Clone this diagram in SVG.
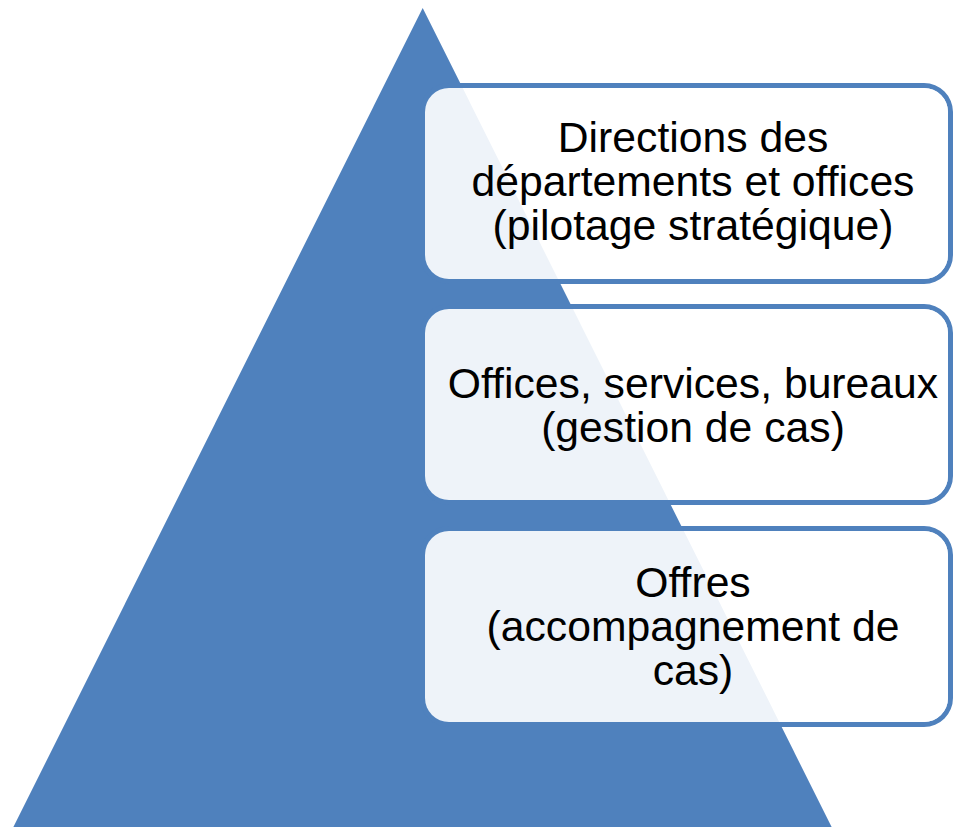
<svg xmlns="http://www.w3.org/2000/svg" width="953" height="827" viewBox="0 0 953 827">
  <style>
    .tri { fill: #4f81bd; }
    .frame { fill: #4f81bd; fill-rule: evenodd; }
    .box { fill: #ffffff; fill-opacity: 0.9; }
    .lbl { font-family: "Liberation Sans", Arial, sans-serif; font-size: 42.7px; fill: #000000; text-anchor: middle; }
  </style>
  <rect width="953" height="827" fill="#ffffff"/>
  <g id="pyramid">
    <polygon class="tri" points="422.7,8 13.4,827 831.6,827"/>
  </g>
  <g id="connectors"></g>
  <g id="node1">
    <path class="frame" d="M449,83 H924 A29,29 0 0 1 953,112 V255 A29,29 0 0 1 924,284 H449 A29,29 0 0 1 420,255 V112 A29,29 0 0 1 449,83 Z M449,88 A24,24 0 0 0 425,112 V255 A24,24 0 0 0 449,279 H924 A24,24 0 0 0 948,255 V112 A24,24 0 0 0 924,88 Z"/>
    <rect class="box" x="425" y="88" width="523" height="191" rx="24" ry="24"/>
    <text class="lbl" x="693" y="152">Directions des</text>
    <text class="lbl" x="693" y="196">départements et offices</text>
    <text class="lbl" x="693" y="240">(pilotage stratégique)</text>
  </g>
  <g id="node2">
    <path class="frame" d="M449,304 H924 A29,29 0 0 1 953,333 V476 A29,29 0 0 1 924,505 H449 A29,29 0 0 1 420,476 V333 A29,29 0 0 1 449,304 Z M449,309 A24,24 0 0 0 425,333 V476 A24,24 0 0 0 449,500 H924 A24,24 0 0 0 948,476 V333 A24,24 0 0 0 924,309 Z"/>
    <rect class="box" x="425" y="309" width="523" height="191" rx="24" ry="24"/>
    <text class="lbl" x="693" y="398">Offices, services, bureaux</text>
    <text class="lbl" x="693" y="442">(gestion de cas)</text>
  </g>
  <g id="node3">
    <path class="frame" d="M449,526 H924 A29,29 0 0 1 953,555 V698 A29,29 0 0 1 924,727 H449 A29,29 0 0 1 420,698 V555 A29,29 0 0 1 449,526 Z M449,531 A24,24 0 0 0 425,555 V698 A24,24 0 0 0 449,722 H924 A24,24 0 0 0 948,698 V555 A24,24 0 0 0 924,531 Z"/>
    <rect class="box" x="425" y="531" width="523" height="191" rx="24" ry="24"/>
    <text class="lbl" x="693" y="597">Offres</text>
    <text class="lbl" x="693" y="641">(accompagnement de</text>
    <text class="lbl" x="693" y="685">cas)</text>
  </g>
</svg>
